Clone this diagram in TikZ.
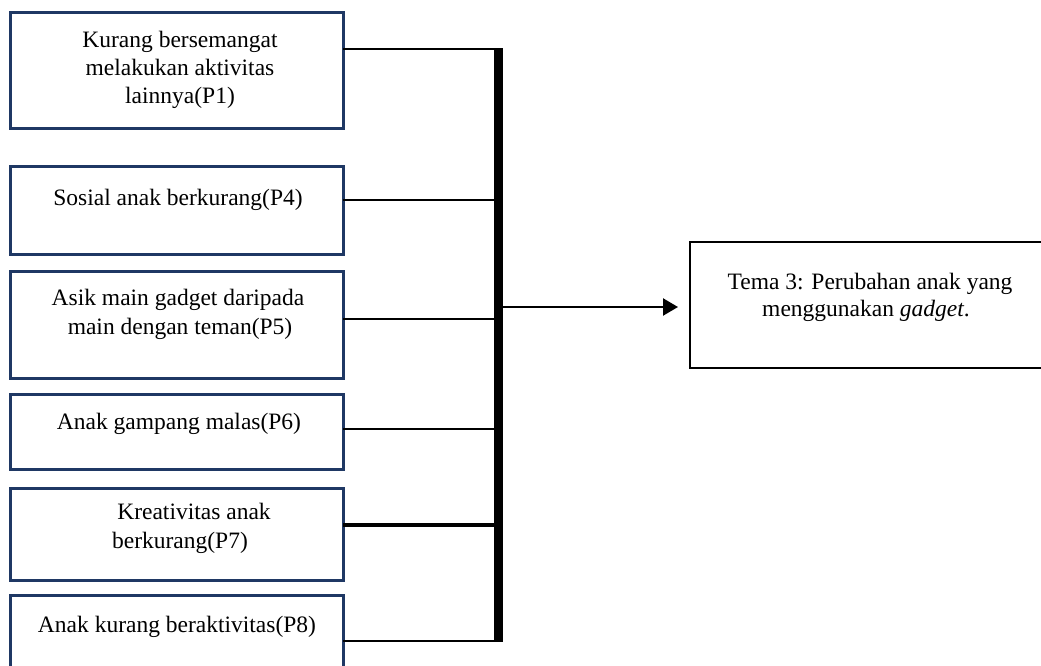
\documentclass[tikz,border=0pt]{standalone}
\usepackage{fontspec}
\setmainfont{Liberation Serif}
\usetikzlibrary{arrows.meta}
\definecolor{navy}{HTML}{1F3864}
\tikzset{
  leftbox/.style={draw=navy, line width=3pt, minimum width=332.5pt, inner sep=0pt, outer sep=0pt, anchor=north west, rectangle},
  rightbox/.style={draw=black, line width=2pt, inner sep=0pt, outer sep=0pt, anchor=north west, rectangle},
  lbl/.style={anchor=base, inner sep=0pt, font=\fontsize{23.5pt}{28pt}\selectfont},
  conn/.style={line width=2.2pt},
  arr/.style={line width=2.2pt, -{Triangle[length=15pt,width=17pt]}}
}
\begin{document}
\begin{tikzpicture}[x=1pt,y=-1pt]
\clip (0,0) rectangle (1041,666);
\fill[white] (0,0) rectangle (1041,666);
% left boxes
\node[leftbox, minimum height=116.5pt] (p1) at (10.5,12.5) {};
\node[leftbox, minimum height=88pt] (p4) at (10.5,166) {};
\node[leftbox, minimum height=107pt] (p5) at (10.5,271) {};
\node[leftbox, minimum height=75pt] (p6) at (10.5,394) {};
\node[leftbox, minimum height=92pt] (p7) at (10.5,488) {};
\node[leftbox, minimum height=110pt] (p8) at (10.5,595) {};
% texts
\node[lbl] (t1a) at (180,48) {Kurang bersemangat};
\node[lbl] (t1b) at (180,76) {melakukan aktivitas};
\node[lbl] (t1c) at (180,104) {lainnya(P1)};
\node[lbl] (t4) at (178,205) {Sosial anak berkurang(P4)};
\node[lbl] (t5a) at (178,305) {Asik main gadget daripada};
\node[lbl] (t5b) at (180,334) {main dengan teman(P5)};
\node[lbl] (t6) at (179,429) {Anak gampang malas(P6)};
\node[lbl] (t7a) at (194,519) {Kreativitas anak};
\node[lbl] (t7b) at (180,548) {berkurang(P7)};
\node[lbl] (t8) at (177,632) {Anak kurang beraktivitas(P8)};
% bar
\node[fill=black, minimum width=9pt, minimum height=594pt, inner sep=0pt, outer sep=0pt, anchor=north west] (bar) at (494,48) {};
% right box
\node[rightbox, minimum width=380pt, minimum height=126.5pt] (tema) at (690,241.5) {};
\node[lbl] (tta) at (870,289) {Tema 3: Perubahan anak yang};
\node[lbl] (ttb) at (866,316) {menggunakan \textit{gadget}.};
% connectors
\coordinate (c1) at (494,49);
\coordinate (c4) at (494,200);
\coordinate (c5) at (494,319);
\coordinate (c6) at (494,429);
\coordinate (c7) at (494,525);
\coordinate (c8) at (494,641);
\draw[conn] (p1.east |- c1) -- (c1);
\draw[conn] (p4.east |- c4) -- (c4);
\draw[conn] (p5.east |- c5) -- (c5);
\draw[conn] (p6.east |- c6) -- (c6);
\draw[line width=4pt] (p7.east |- c7) -- (c7);
\draw[conn] (p8.east |- c8) -- (c8);
\coordinate (ae) at (678,307);
\draw[arr] (bar.east |- ae) -- (ae);
\end{tikzpicture}
\end{document}
